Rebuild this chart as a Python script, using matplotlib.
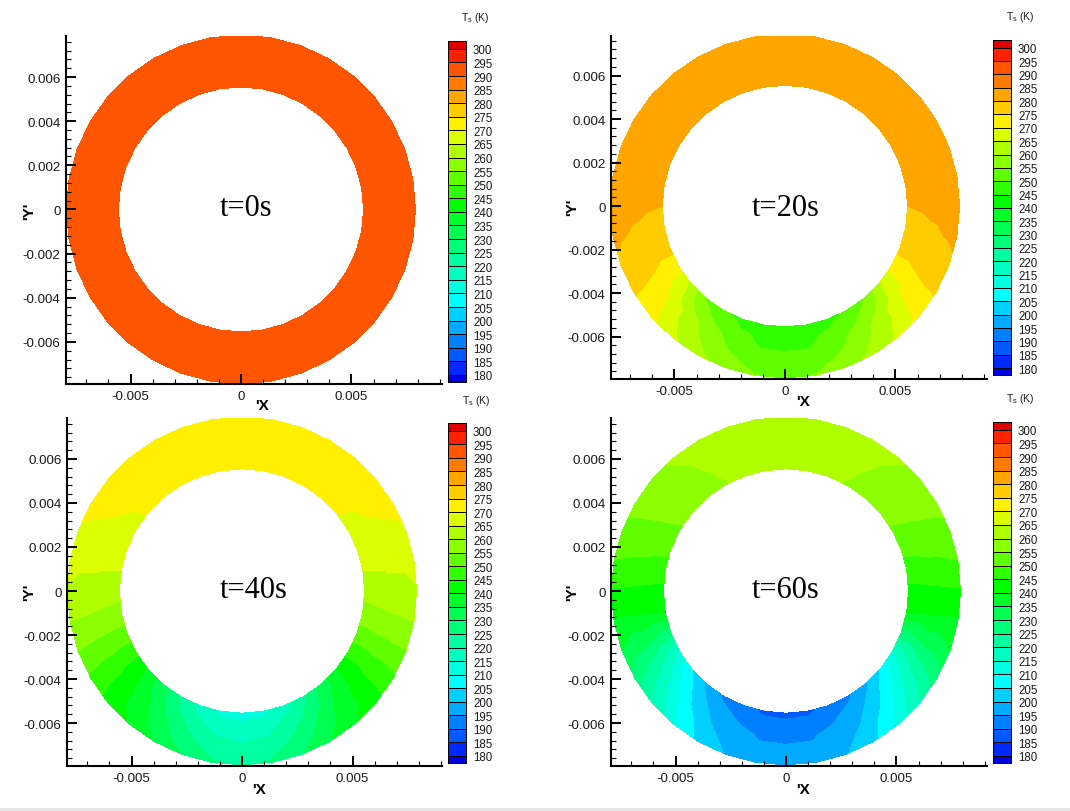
import numpy as np
import matplotlib
matplotlib.use('Agg')
import matplotlib.pyplot as plt
import matplotlib.tri as mtri
from matplotlib.colors import ListedColormap, BoundaryNorm
from matplotlib.patches import Rectangle
from matplotlib.ticker import MultipleLocator

plt.rcParams['font.family'] = ['Liberation Sans', 'DejaVu Sans']
plt.rcParams['mathtext.default'] = 'regular'

W, H = 1070, 812

# degrees from the bottom of the ring, right half (left half is mirrored)
alpha = [0, 10, 20, 30, 40, 50, 60, 70, 80, 90, 100, 110, 120, 130, 140, 150, 160, 170, 180]
radii = [0.00555, 0.0067, 0.0079]

t0_inner = [293] * 19
t0_mid = [293] * 19
t0_outer = [293] * 19

t20_inner = [247, 247.2, 248.4, 250.5, 254.8, 264, 272.3, 276.5, 278, 280, 281, 282, 282.5, 283, 283, 283, 283, 283, 283]
t20_mid = [250, 250.2, 253, 257.2, 262.2, 269, 274.2, 277.2, 279.3, 281, 282, 282.5, 283, 283, 283, 283, 283, 283, 283]
t20_outer = [254, 255.2, 258, 261.3, 265.8, 271.5, 275.7, 279.2, 281, 282, 282.5, 283, 283, 283, 283, 283, 283, 283, 283]

t40_inner = [213, 213.7, 218, 224, 232, 239.5, 246.5, 253, 258.3, 261.5, 265.1, 267.2, 268.7, 270.2, 271, 271.5, 272, 272, 272]
t40_mid = [219, 220, 224, 229.5, 236, 241.5, 247.7, 254, 259.2, 262.9, 265.9, 268.5, 270, 271, 271.6, 272, 272, 272, 272]
t40_outer = [224, 225.7, 229.5, 234.5, 239.5, 243, 249, 255, 260, 264.6, 266.3, 269.5, 271, 271.8, 272, 272, 272, 272, 272]

t60_inner = [188.7, 189, 191.5, 194, 199, 205, 214, 227.5, 240, 243.5, 247.5, 251.5, 254.5, 256.5, 258, 259.7, 261, 262, 262]
t60_mid = [194.4, 194.5, 196.5, 199.5, 205, 213, 222, 231.5, 239.6, 244, 248.7, 252.6, 255.4, 257.6, 259.2, 260.7, 261.7, 262.5, 262.5]
t60_outer = [197, 197.3, 199.6, 203.3, 211, 220, 227.9, 235, 239.2, 244.5, 249.8, 253.6, 256.4, 258.8, 260.5, 261.7, 262.5, 263, 263]

fields = [(t0_inner, t0_mid, t0_outer), (t20_inner, t20_mid, t20_outer),
          (t40_inner, t40_mid, t40_outer), (t60_inner, t60_mid, t60_outer)]
names = ['t=0s', 't=20s', 't=40s', 't=60s']

levels = [175] + list(range(180, 301, 5)) + [305]
level_labels = list(range(300, 175, -5))
band_colors = ['#0000e0', '#0028ff', '#0058ff', '#0080ff', '#00aaff', '#00d0ff', '#00ffff',
               '#00ffe0', '#00ffc0', '#00ffa0', '#00ff78', '#00ff50', '#00ff28', '#00ff00',
               '#30ff00', '#60ff00', '#8cff00', '#b0ff00', '#dcff00', '#fff000', '#ffcc00',
               '#ffa500', '#ff7a00', '#ff5500', '#ff2200', '#e00000']

x_major = [-0.005, 0, 0.005]
x_major_labels = ['-0.005', '0', '0.005']
y_major = [-0.006, -0.004, -0.002, 0, 0.002, 0.004, 0.006]
y_major_labels = ['-0.006', '-0.004', '-0.002', '0', '0.002', '0.004', '0.006']

# pixel boxes: left, right, top, bottom
ax_boxes = [(66, 442, 37, 385), (611, 987, 37, 380), (67, 442, 419, 767), (611, 987, 419, 767)]
xlims = [(-0.00792, 0.00910), (-0.00787, 0.00914), (-0.00792, 0.00905), (-0.00792, 0.00910)]
ylims = [(-0.00791, 0.00786), (-0.00795, 0.00782), (-0.00795, 0.00786), (-0.00795, 0.00786)]
bar_boxes = [(448, 466, 42, 383), (993, 1011, 41, 376), (448, 466, 424, 764), (993, 1011, 423, 764)]
name_pos = [(246, 209), (786, 209), (254, 591), (786, 591)]
xlabel_pos = [(262, 406), (803, 402), (259, 790), (803, 790)]
ylabel_pos = [(29, 211), (572, 207), (29, 592), (572, 592)]
title_pos = [(475, 18), (1020, 17), (476, 401), (1020, 399)]

cmap = ListedColormap(band_colors)
norm = BoundaryNorm(levels, cmap.N)


def px_axes(fig, box):
    left, right, top, bottom = box
    return fig.add_axes([left / W, 1 - bottom / H, (right - left) / W, (bottom - top) / H])


def ring_mesh(values):
    # mirror the right half round to the left, diagonals mirrored too so the bands stay symmetric
    a = np.radians(alpha + [360 - v for v in alpha[-2:0:-1]])
    n = len(a)
    x, y, z = [], [], []
    for r, row in zip(radii, values):
        full = list(row) + list(row[-2:0:-1])
        x.extend(r * np.sin(a))
        y.extend(-r * np.cos(a))
        z.extend(full)
    tris = []
    for j in range(len(radii) - 1):
        for i in range(n):
            p = j * n + i
            q = j * n + (i + 1) % n
            if i < n // 2:
                tris.append([p, q, q + n])
                tris.append([p, q + n, p + n])
            else:
                tris.append([p, q, p + n])
                tris.append([q, q + n, p + n])
    return mtri.Triangulation(x, y, tris), np.array(z, dtype=float)


fig = plt.figure(figsize=(W / 100, H / 100), dpi=100)

for k in range(4):
    ax = px_axes(fig, ax_boxes[k])
    tr, z = ring_mesh(fields[k])
    ax.tricontourf(tr, z, levels=levels, cmap=cmap, norm=norm)
    ax.set_xlim(xlims[k])
    ax.set_ylim(ylims[k])
    ax.set_xticks(x_major)
    ax.set_xticklabels(x_major_labels)
    ax.set_yticks(y_major)
    ax.set_yticklabels(y_major_labels)
    ax.xaxis.set_minor_locator(MultipleLocator(0.001))
    ax.yaxis.set_minor_locator(MultipleLocator(0.0004))
    ax.tick_params(which='major', direction='in', length=7.2, width=1.4, labelsize=9.6, pad=4,
                   labelcolor='#1a1a1a')
    ax.tick_params(which='minor', direction='in', length=3.6, width=0.8)
    ax.spines['top'].set_visible(False)
    ax.spines['right'].set_visible(False)
    ax.spines['left'].set_linewidth(1.5)
    ax.spines['bottom'].set_linewidth(1.5)

    fig.text(name_pos[k][0] / W, 1 - name_pos[k][1] / H, names[k], family='Liberation Serif',
             fontsize=22, ha='center', va='center')
    fig.text(xlabel_pos[k][0] / W, 1 - xlabel_pos[k][1] / H, "'X", fontsize=11, fontweight='bold',
             ha='center', va='center')
    fig.text(ylabel_pos[k][0] / W, 1 - ylabel_pos[k][1] / H, "'Y'", fontsize=11, fontweight='bold',
             rotation=90, ha='center', va='center')
    fig.text(title_pos[k][0] / W, 1 - title_pos[k][1] / H, 'T$_s$ (K)', fontsize=7.5,
             ha='center', va='center', color='#1a1a1a')

    cax = px_axes(fig, bar_boxes[k])
    cax.pcolormesh([0, 1], levels, np.array(levels[:-1], dtype=float).reshape(-1, 1) + 2.5,
                   cmap=cmap, norm=norm)
    cax.hlines(level_labels, 0, 1, color='black', linewidth=0.7)
    cax.set_xlim(0, 1)
    cax.set_ylim(177.4, 302.9)
    cax.set_xticks([])
    cax.yaxis.tick_right()
    cax.set_yticks(level_labels)
    cax.tick_params(axis='y', length=0, labelsize=8.3, pad=5, labelcolor='#1a1a1a')
    for s in cax.spines.values():
        s.set_linewidth(0.7)

# faint strip along the bottom edge of the screenshot
fig.add_artist(Rectangle((0, 0), 1, 3 / H, transform=fig.transFigure, facecolor='#e6e6e6', edgecolor='none'))

fig.savefig('out.png', dpi=100)
